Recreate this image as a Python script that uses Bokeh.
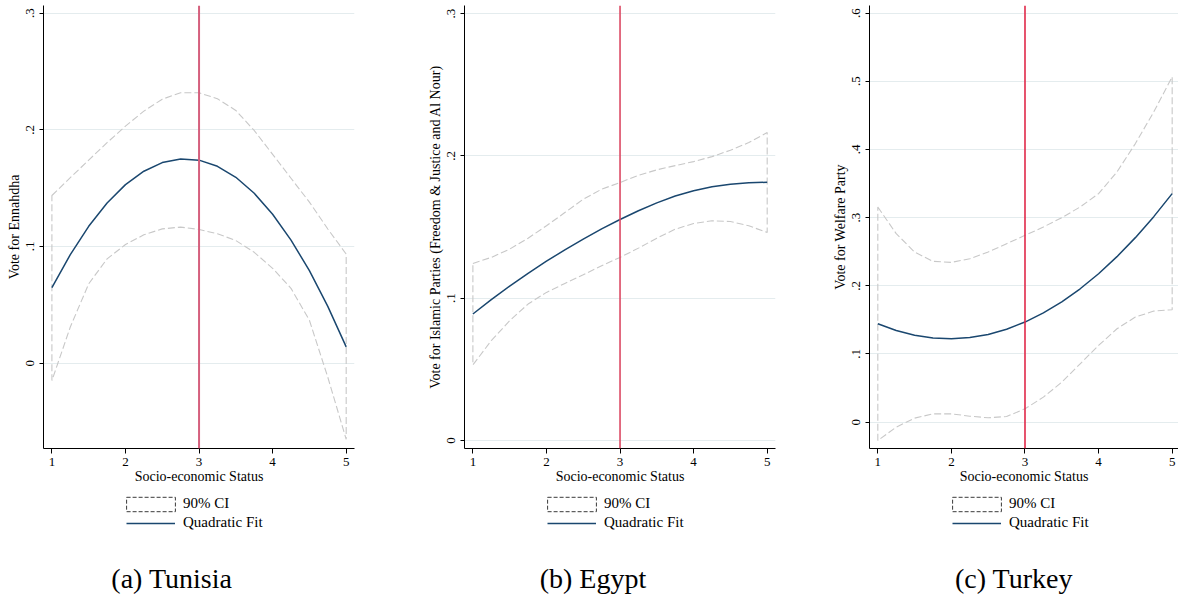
from bokeh.plotting import figure
from bokeh.layouts import row, column
from bokeh.models import (Span, Legend, LegendItem, Label, FixedTicker,
                          CustomJSTickFormatter, Range1d)
from bokeh.embed import file_html
from bokeh.resources import INLINE

# ---------------- data ----------------
ses = [1.0, 1.25, 1.5, 1.75, 2.0, 2.25, 2.5, 2.75, 3.0,
       3.25, 3.5, 3.75, 4.0, 4.25, 4.5, 4.75, 5.0]

tun_fit = [0.0647, 0.0930, 0.1173, 0.1372, 0.1530, 0.1645, 0.1719, 0.1750, 0.1740,
           0.1687, 0.1593, 0.1456, 0.1276, 0.1055, 0.0793, 0.0487, 0.0140]
tun_upper = [0.1437, 0.1590, 0.1740, 0.1890, 0.2031, 0.2160, 0.2262, 0.2318, 0.2317,
             0.2266, 0.2166, 0.1994, 0.1790, 0.1585, 0.1380, 0.1150, 0.0935]
tun_lower = [-0.0149, 0.0310, 0.0680, 0.0894, 0.1017, 0.1100, 0.1151, 0.1166, 0.1146,
             0.1109, 0.1051, 0.0950, 0.0813, 0.0641, 0.0368, -0.0120, -0.0652]

egy_fit = [0.0889, 0.0990, 0.1085, 0.1175, 0.1260, 0.1340, 0.1415, 0.1487, 0.1553,
           0.1615, 0.1670, 0.1718, 0.1755, 0.1783, 0.1801, 0.1811, 0.1815]
egy_upper = [0.1244, 0.1287, 0.1345, 0.1422, 0.1509, 0.1602, 0.1696, 0.1766, 0.1813,
             0.1864, 0.1902, 0.1932, 0.1960, 0.1995, 0.2040, 0.2094, 0.2164]
egy_lower = [0.0531, 0.0702, 0.0842, 0.0959, 0.1041, 0.1104, 0.1165, 0.1228, 0.1287,
             0.1352, 0.1422, 0.1485, 0.1525, 0.1544, 0.1539, 0.1509, 0.1462]

tur_fit = [0.1443, 0.1344, 0.1275, 0.1234, 0.1223, 0.1241, 0.1287, 0.1363, 0.1468,
           0.1602, 0.1764, 0.1956, 0.2177, 0.2427, 0.2706, 0.3014, 0.3351]
tur_upper = [0.3156, 0.2764, 0.2495, 0.2358, 0.2343, 0.2397, 0.2495, 0.2617, 0.2740,
             0.2862, 0.2999, 0.3156, 0.3351, 0.3669, 0.4085, 0.4550, 0.5064]
tur_lower = [-0.0269, -0.0073, 0.0059, 0.0122, 0.0122, 0.0088, 0.0064, 0.0083, 0.0196,
             0.0367, 0.0587, 0.0856, 0.1125, 0.1370, 0.1541, 0.1629, 0.1649]

x_ticks = [1, 2, 3, 4, 5]
tun_yticks = [0, 0.1, 0.2, 0.3]
egy_yticks = [0, 0.1, 0.2, 0.3]
tur_yticks = [0, 0.1, 0.2, 0.3, 0.4, 0.5, 0.6]

threshold = 3

x_label = "Socio-economic Status"
ci_label = "90% CI"
fit_label = "Quadratic Fit"

SERIF = "Liberation Serif"
FIT_COLOR = "#1a476f"
CI_COLOR = "#c8c8c8"
GRID_COLOR = "#e4ecee"

PLOT_H = 490
LEG_H = 104
NAN = float("nan")


def make_panel(fit, upper, lower, yticks, ylabel, caption, xr, yr,
               width, bl, br, red_color, red_width, cap_dx):
    p = figure(width=width, height=PLOT_H, output_backend="svg",
               toolbar_location=None,
               x_range=Range1d(*xr), y_range=Range1d(*yr),
               min_border_left=bl, min_border_right=br,
               min_border_top=5, min_border_bottom=PLOT_H - 448)
    p.outline_line_color = None
    p.background_fill_color = "white"
    p.border_fill_color = "white"
    p.xgrid.visible = False
    p.ygrid.grid_line_color = GRID_COLOR
    p.ygrid.grid_line_width = 1

    # CI band as dashed outline (closed polygon)
    p.patch(ses + ses[::-1], upper + lower[::-1], fill_color=None,
            line_color=CI_COLOR, line_dash="7 3", line_width=1.1)
    p.line(ses, fit, line_color=FIT_COLOR, line_width=1.5)

    p.add_layout(Span(location=threshold, dimension="height",
                      line_color=red_color, line_width=red_width))

    # axes
    p.xaxis.ticker = FixedTicker(ticks=x_ticks)
    p.yaxis.ticker = FixedTicker(ticks=yticks)
    p.yaxis.formatter = CustomJSTickFormatter(
        code="return tick == 0 ? '0' : tick.toFixed(1).replace(/^0/, '');")
    for ax in (p.xaxis[0], p.yaxis[0]):
        ax.axis_line_color = "black"
        ax.axis_line_width = 1
        ax.major_tick_line_color = "black"
        ax.major_tick_in = 0
        ax.minor_tick_line_color = None
        ax.major_label_text_font = SERIF
        ax.major_label_text_font_size = "13px"
        ax.major_label_text_color = "black"
        ax.axis_label_text_font = SERIF
        ax.axis_label_text_font_size = "14px"
        ax.axis_label_text_font_style = "normal"
        ax.axis_label_text_color = "black"
    p.xaxis.major_tick_out = 5
    p.xaxis.major_label_standoff = 4
    p.xaxis.axis_label = x_label
    p.xaxis.axis_label_standoff = 0
    p.yaxis.major_tick_out = 4
    p.yaxis.major_label_standoff = 5
    p.yaxis.major_label_orientation = "vertical"
    p.yaxis.axis_label = ylabel
    p.yaxis.axis_label_standoff = 2

    # legend + caption strip under the plot (its frame lines up with the plot frame)
    lf = figure(width=width, height=LEG_H, output_backend="svg",
                toolbar_location=None, x_axis_type=None, y_axis_type=None,
                x_range=Range1d(0, 1), y_range=Range1d(0, 1),
                min_border_left=0, min_border_right=0,
                min_border_top=0, min_border_bottom=0)
    lf.outline_line_color = None
    lf.grid.visible = False
    # legend-only renderers (a single NaN point draws nothing on the canvas)
    ci_r = lf.patch([NAN], [NAN], fill_color="white", line_color="#3a3a3a",
                    line_dash="4 2", line_width=1)
    fit_r = lf.line([NAN], [NAN], line_color=FIT_COLOR, line_width=1.5)
    leg_ci = Legend(items=[LegendItem(label=ci_label, renderers=[ci_r])],
                    location=(83 - 6, LEG_H - 13.7 - 9),
                    glyph_width=61, glyph_height=18,
                    label_height=18, label_standoff=2, padding=0, margin=0,
                    spacing=0, border_line_color=None, background_fill_alpha=0,
                    label_text_font=SERIF, label_text_font_size="15px",
                    label_text_color="black")
    leg_fit = Legend(items=[LegendItem(label=fit_label, renderers=[fit_r])],
                     location=(83, LEG_H - 32.7 - 9),
                     glyph_width=49, glyph_height=18,
                     label_height=18, label_standoff=8, padding=0, margin=0,
                     spacing=0, border_line_color=None, background_fill_alpha=0,
                     label_text_font=SERIF, label_text_font_size="15px",
                     label_text_color="black")
    lf.add_layout(leg_ci)
    lf.add_layout(leg_fit)
    lf.add_layout(Label(x=cap_dx, y=LEG_H - 88, x_units="screen", y_units="screen",
                        text=caption, text_align="center", text_baseline="middle",
                        text_font=SERIF, text_font_size="28px", text_color="black"))
    return column(p, lf, spacing=0)


pa = make_panel(tun_fit, tun_upper, tun_lower, tun_yticks, "Vote for Ennahdha",
                "(a) Tunisia", (0.8857, 5.113), (-0.0731, 0.3065),
                419, 43, 65, "#d5607d", 2, 128.4)
pb = make_panel(egy_fit, egy_upper, egy_lower, egy_yticks,
                "Vote for Islamic Parties (Freedom & Justice and Al Nour)",
                "(b) Egypt", (0.886, 5.113), (-0.0056, 0.3057),
                405, 45, 49, "#dc4a64", 1.6, 128.4)
pc = make_panel(tur_fit, tur_upper, tur_lower, tur_yticks, "Vote for Welfare Party",
                "(c) Turkey", (0.887, 5.086), (-0.0386, 0.611),
                354, 45, 0, "#e0294a", 1.6, 144.5)

layout = row(pa, pb, pc, spacing=0)

open("out.html", "w").write(file_html(layout, INLINE))
